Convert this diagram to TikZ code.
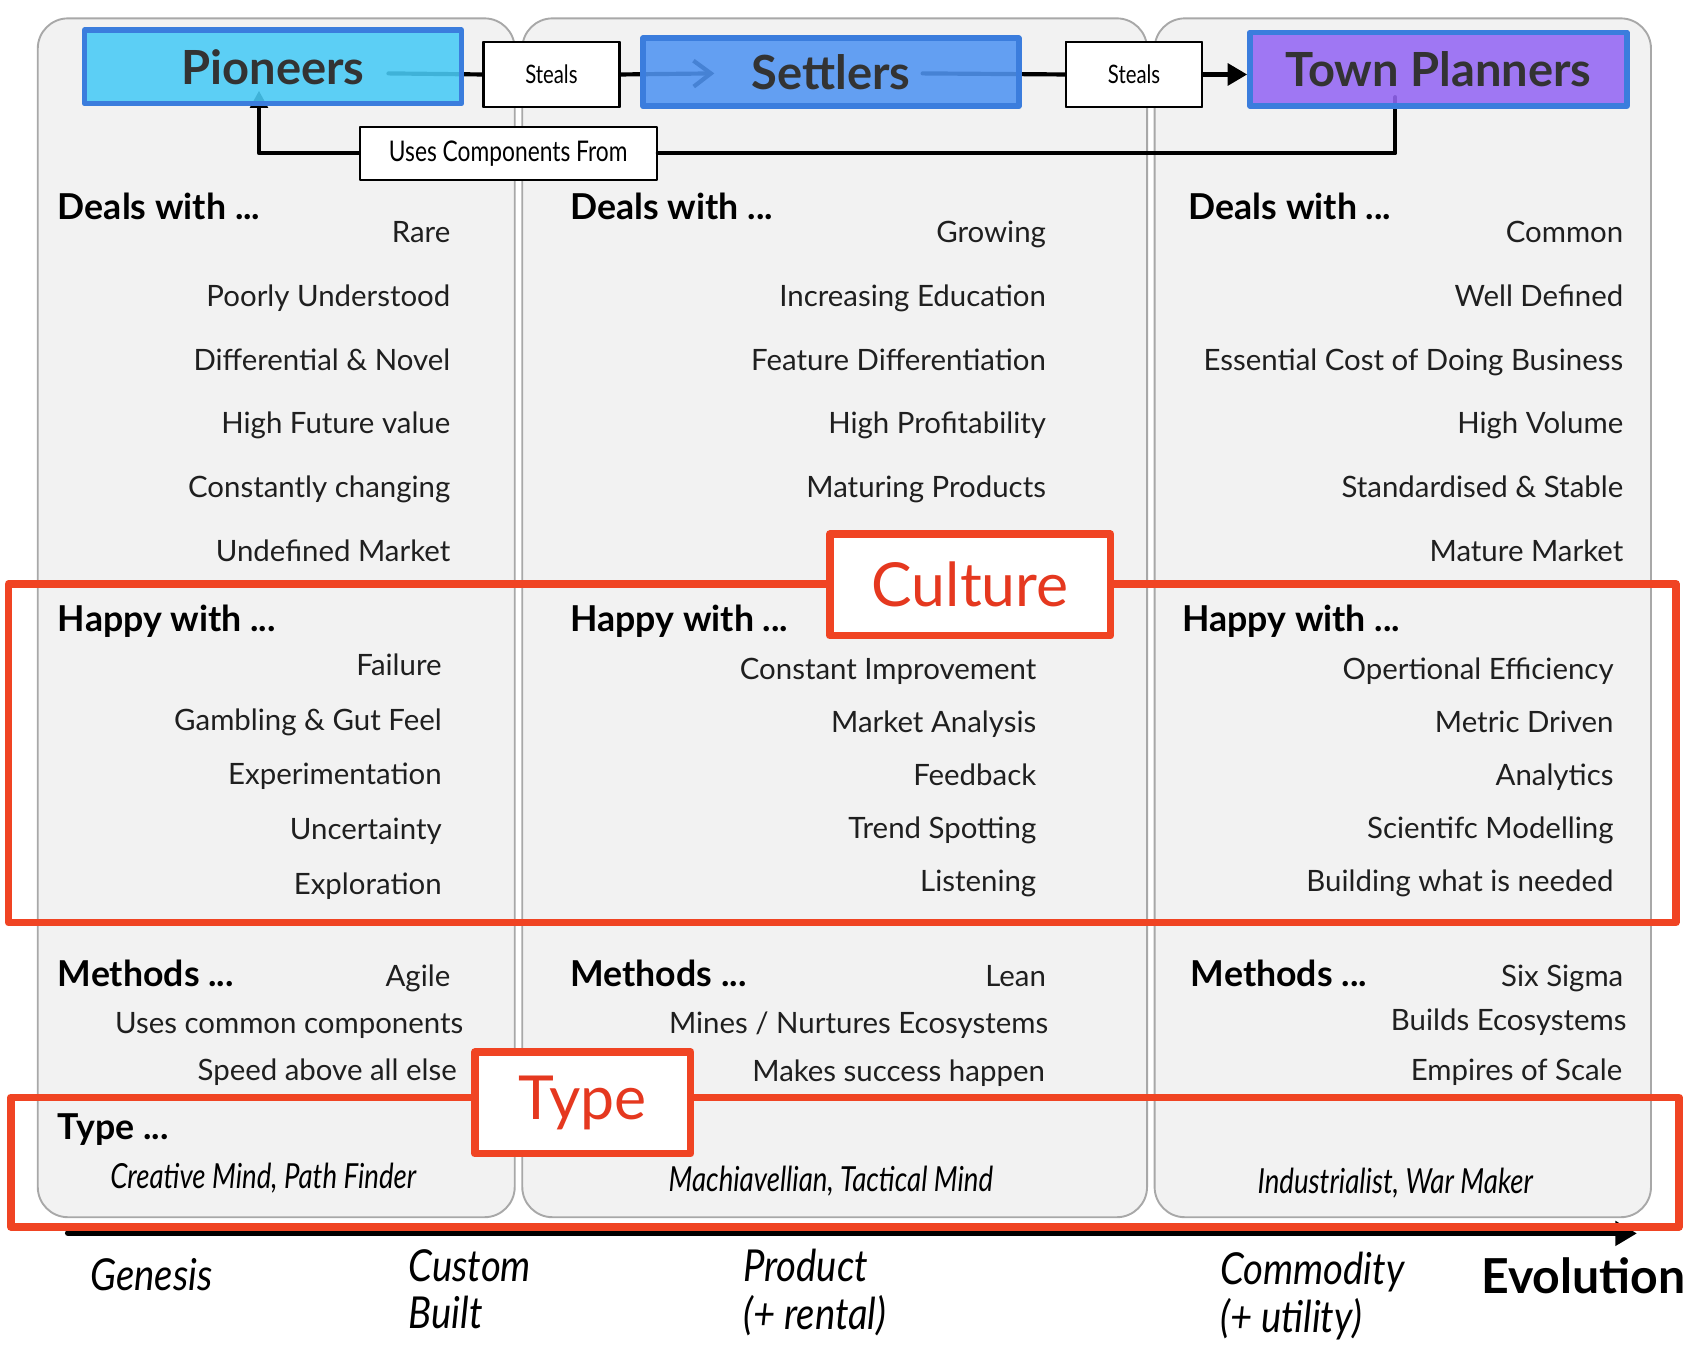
\documentclass[tikz,border=0pt]{standalone}
\usepackage{fontspec}
\setmainfont{Lato}
\newfontfamily\narrowfont[FakeStretch=0.8]{Lato}
\newfontfamily\stagefont[FakeStretch=0.87]{Lato}
\usetikzlibrary{arrows.meta}

\definecolor{panelgray}{HTML}{F2F2F2}
\definecolor{panelline}{HTML}{A8A8A8}
\definecolor{pioncol}{HTML}{48CBF6}
\definecolor{settcol}{HTML}{5094F2}
\definecolor{towncol}{HTML}{9466F4}
\definecolor{boxblue}{HTML}{3B7DDD}
\definecolor{hired}{HTML}{F04423}
\definecolor{labelred}{HTML}{E5381F}
\definecolor{titlegray}{HTML}{333333}

\tikzset{
  panel/.style={draw=panelline, fill=panelgray, line width=0.5pt, rounded corners=0.28cm},
  teambox/.style={draw=boxblue, line width=1.5pt, fill opacity=0.88, text opacity=1,
    text=titlegray, inner sep=0pt, font=\fontsize{12.4}{14}\selectfont\bfseries},
  stealbox/.style={draw=black, fill=white, line width=0.6pt, inner sep=0pt,
    minimum height=0.6cm, font=\narrowfont\fontsize{6.7}{8}\selectfont},
  link/.style={line width=1.1pt, draw=black},
  heading/.style={anchor=base west, inner sep=0pt, font=\fontsize{9.4}{11}\selectfont\bfseries},
  item/.style={anchor=base east, inner sep=0pt, text=black!88, font=\fontsize{7.75}{10}\selectfont},
  persona/.style={anchor=base, inner sep=0pt, font=\narrowfont\itshape\fontsize{9.1}{10}\selectfont},
  stage/.style={anchor=north west, inner sep=0pt, align=left,
    font=\stagefont\itshape\fontsize{11.6}{12.5}\selectfont},
  band/.style={draw=hired, line width=2pt},
  bandlabel/.style={draw=hired, fill=white, line width=2pt, inner sep=0pt,
    text=labelred, font=\fontsize{16}{18}\selectfont},
}

\begin{document}
\begin{tikzpicture}[x=0.01cm,y=-0.01cm,line cap=round,line join=round]
\useasboundingbox (0,0) rectangle (1568,1256);

% three columns
\draw[panel] (35,17) rectangle (477,1128);
\draw[panel] (484,17) rectangle (1063,1128);
\draw[panel] (1070,17) rectangle (1530,1128);

% Genesis column
\node[heading] (dealsA) at (53,203) {Deals with ...};
\foreach \txt [count=\i] in {Rare,Poorly Understood,Differential \& Novel,High Future value,Constantly changing,Undefined Market}
  \node[item] (dealA\i) at (418,166+59*\i) {\txt};
\node[heading] (happyA) at (53,585) {Happy with ...};
\foreach \txt [count=\i] in {Failure,Gambling \& Gut Feel,Experimentation,Uncertainty,Exploration}
  \node[item] (happA\i) at (410,575+50.75*\i) {\txt};
\node[heading] (methA) at (53,914) {Methods ...};
\node[item] (methA1) at (418,914) {Agile};
\node[item] (methA2) at (430,958) {Uses common components};
\node[item] (methA3) at (424,1001) {Speed above all else};
\node[heading] (typeA) at (53,1056) {Type ...};
\node[persona] (persA) at (244,1101) {Creative Mind, Path Finder};

% Product column
\node[heading] (dealsB) at (528,203) {Deals with ...};
\foreach \txt [count=\i] in {Growing,Increasing Education,Feature Differentiation,High Profitability,Maturing Products}
  \node[item] (dealB\i) at (970,166+59*\i) {\txt};
\node[heading] (happyB) at (528,585) {Happy with ...};
\foreach \txt [count=\i] in {Constant Improvement,Market Analysis,Feedback,Trend Spotting,Listening}
  \node[item] (happB\i) at (961,581+49*\i) {\txt};
\node[heading] (methB) at (528,914) {Methods ...};
\node[item] (methB1) at (970,914) {Lean};
\node[item] (methB2) at (972,958) {Mines / Nurtures Ecosystems};
\node[item] (methB3) at (969,1002) {Makes success happen};
\node[persona] (persB) at (770,1104) {Machiavellian, Tactical Mind};

% Commodity column
\node[heading] (dealsC) at (1101,203) {Deals with ...};
\foreach \txt [count=\i] in {Common,Well Defined,Essential Cost of Doing Business,High Volume,Standardised \& Stable,Mature Market}
  \node[item] (dealC\i) at (1505,166+59*\i) {\txt};
\node[heading] (happyC) at (1095,585) {Happy with ...};
\foreach \txt [count=\i] in {Opertional Efficiency,Metric Driven,Analytics,Scientifc Modelling,Building what is needed}
  \node[item] (happC\i) at (1496,581+49*\i) {\txt};
\node[heading] (methC) at (1103,914) {Methods ...};
\node[item] (methC1) at (1505,914) {Six Sigma};
\node[item] (methC2) at (1508,955) {Builds Ecosystems};
\node[item] (methC3) at (1504,1001) {Empires of Scale};
\node[persona] (persC) at (1293,1106) {Industrialist, War Maker};

% evolution axis
\coordinate (axisstart) at (63,1143);
\coordinate (axisend) at (1517,1143);
\draw[line width=1.6pt,-{Triangle[length=0.2cm,width=0.22cm]}] (axisstart) -- (axisend);
\node[stage] (genesis) at (83,1165) {Genesis};
\node[stage] (custom) at (378,1157) {Custom\\Built};
\node[stage] (product) at (688,1157) {Product\\(+ rental)};
\node[stage] (commodity) at (1130,1160) {Commodity\\(+ utility)};
\node[anchor=base west,inner sep=0pt,font=\fontsize{12.7}{14}\selectfont\bfseries] (evolution) at (1372,1199) {Evolution};

% red highlights
\draw[band] (8,541) rectangle (1553,855);
\draw[band] (10,1017) rectangle (1556,1137);
\node[bandlabel,minimum width=2.6cm,minimum height=0.94cm] (culture) at (899,542) {Culture};
\node[bandlabel,minimum width=2.0cm,minimum height=0.94cm] (typelbl) at (540,1022) {Type};

% links between the teams
\coordinate (pionout) at (360,68);
\coordinate (settin) at (662,68);
\coordinate (settout) at (855,68);
\coordinate (townout) at (1293,90);
\coordinate (pionin) at (240,84);
\node[stealbox,minimum width=1.26cm] (stealA) at (511,69) {Steals};
\node[stealbox,minimum width=1.26cm] (stealB) at (1051,69) {Steals};
\node[stealbox,minimum width=2.75cm,minimum height=0.49cm,font=\narrowfont\fontsize{7.5}{9}\selectfont] (uses) at (471,142) {Uses Components From};
\draw[link] (pionout) -- (stealA.west);
\draw[link,-{Straight Barb[length=0.16cm,width=0.24cm]}] (stealA.east) -- (settin);
\draw[link] (settout) -- (stealB.west);
\draw[link] (townout) |- (uses.east);
\draw[link,-{Triangle[length=0.16cm,width=0.16cm]}] (uses.west) -| (pionin);

\node[teambox,fill=pioncol,minimum width=3.49cm,minimum height=0.68cm] (pioneers) at (253,62) {Pioneers};
\node[teambox,fill=settcol,minimum width=3.48cm,minimum height=0.63cm] (settlers) at (770,67) {Settlers};
\node[teambox,fill=towncol,minimum width=3.49cm,minimum height=0.68cm] (town) at (1333,64) {Town Planners};
\draw[link,-{Triangle[length=0.18cm,width=0.2cm]}] (stealB.east) -- (town.west |- stealB.east);
\node[stealbox,minimum width=1.26cm] at (stealA) {Steals};
\node[stealbox,minimum width=1.26cm] at (stealB) {Steals};
\end{tikzpicture}
\end{document}
